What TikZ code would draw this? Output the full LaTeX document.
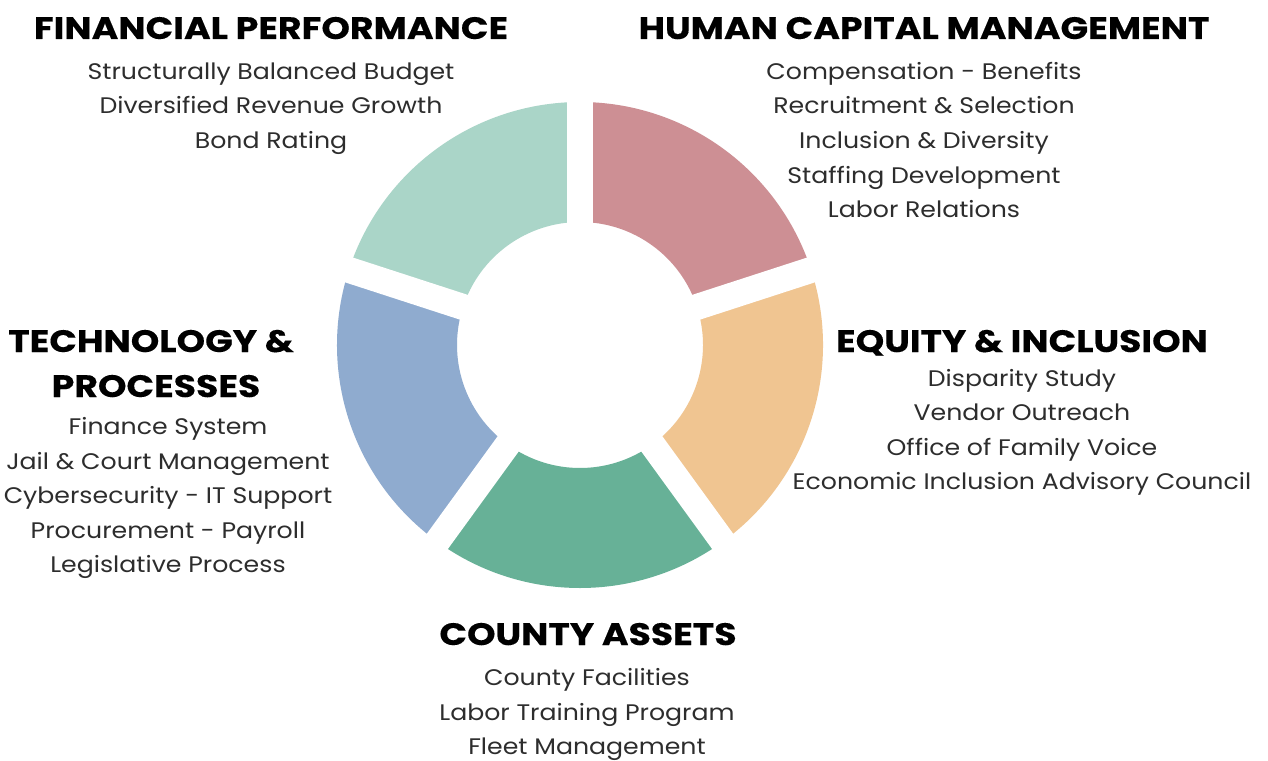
\documentclass[tikz,border=0pt]{standalone}
\usepackage{fontspec}
\usetikzlibrary{calc}
\setmainfont{Poppins}[FakeStretch=1.12]
\newfontfamily\headfont{Poppins}[BoldFont=*-Bold, BoldFeatures={FakeStretch=1.17, FakeBold=0.3}]
\definecolor{mint}{RGB}{170,213,200}
\definecolor{rose}{RGB}{205,143,148}
\definecolor{peach}{RGB}{240,197,145}
\definecolor{jade}{RGB}{103,177,151}
\definecolor{steel}{RGB}{143,171,207}
\definecolor{bodytext}{RGB}{45,45,45}
\tikzset{
  heading/.style={anchor=base, inner sep=0pt, font=\headfont\bfseries\fontsize{31}{31}\selectfont, text=black},
  item/.style={anchor=base, inner sep=0pt, font=\fontsize{22.5}{22.5}\selectfont, text=bodytext},
}
\begin{document}
\begin{tikzpicture}[x=1pt,y=-1pt]
\useasboundingbox (0,0) rectangle (1268,760);
\fill[white] (0,0) rectangle (1268,760);
% ring segments, 72 degrees each (angles run clockwise on the page)
\def\cx{580}\def\cy{345}\def\ro{243}\def\ri{123}
\foreach \a/\c in {18/rose, -54/peach, -126/jade, 162/steel, 90/mint}{
  \fill[\c] (\cx,\cy) ++(-\a:\ro) arc[start angle=-\a, end angle=-\a-72, radius=\ro]
    -- ($(\cx,\cy)+(-\a-72:\ri)$) arc[start angle=-\a-72, end angle=-\a, radius=\ri] -- cycle;
}
% parallel gaps between segments
\foreach \a in {90, 18, -54, -126, 162}{
  \draw[white, line width=26pt] (\cx,\cy) -- ++(-\a:260);
}
% Financial performance
\node[heading] (fp) at (271,39) {FINANCIAL PERFORMANCE};
\node[item] (fp1) at (271,79) {Structurally Balanced Budget};
\node[item] (fp2) at (271,113) {Diversified Revenue Growth};
\node[item] (fp3) at (271,148) {Bond Rating};
% Human capital management
\node[heading] (hc) at (924,39) {HUMAN CAPITAL MANAGEMENT};
\node[item] (hc1) at (924,79) {Compensation - Benefits};
\node[item] (hc2) at (924,113) {Recruitment \& Selection};
\node[item] (hc3) at (924,148) {Inclusion \& Diversity};
\node[item] (hc4) at (924,183) {Staffing Development};
\node[item] (hc5) at (924,217) {Labor Relations};
% Technology and processes
\node[heading] (tp) at (151,352) {TECHNOLOGY \&};
\node[heading] (tpb) at (156,397) {PROCESSES};
\node[item] (tp1) at (168,434) {Finance System};
\node[item] (tp2) at (168,469) {Jail \& Court Management};
\node[item] (tp3) at (168,503) {Cybersecurity - IT Support};
\node[item] (tp4) at (168,538) {Procurement - Payroll};
\node[item] (tp5) at (168,572) {Legislative Process};
% Equity and inclusion
\node[heading] (ei) at (1022,352) {EQUITY \& INCLUSION};
\node[item] (ei1) at (1022,386) {Disparity Study};
\node[item] (ei2) at (1022,420) {Vendor Outreach};
\node[item] (ei3) at (1022,455) {Office of Family Voice};
\node[item] (ei4) at (1022,489) {Economic Inclusion Advisory Council};
% County assets
\node[heading] (ca) at (588,645) {COUNTY ASSETS};
\node[item] (ca1) at (587,685) {County Facilities};
\node[item] (ca2) at (587,720) {Labor Training Program};
\node[item] (ca3) at (587,754) {Fleet Management};
\end{tikzpicture}
\end{document}
